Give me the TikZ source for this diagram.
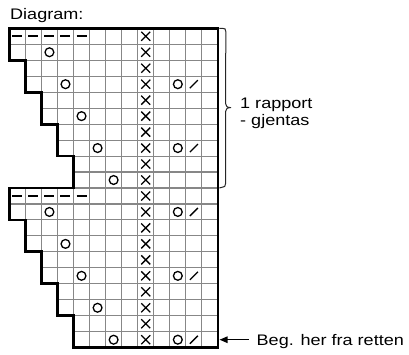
\documentclass[tikz,border=0pt]{standalone}
\usepackage{fontspec}
\setmainfont[FakeStretch=1.18]{Liberation Sans}
\usetikzlibrary{arrows.meta}
\definecolor{gridgray}{RGB}{135,135,135}
\begin{document}
\begin{tikzpicture}[x=1pt,y=-1pt,
  gridline/.style={draw=gridgray,line width=1.1pt},
  outline/.style={line width=2.8pt,line join=miter},
  sym/.style={line width=1.3pt,black},
  dashsym/.style={line width=1.6pt,black},
  lbl/.style={inner sep=0pt,font=\fontsize{15.3}{17.4}\selectfont,anchor=base west},
  bracestyle/.style={line width=1pt,black!85},
  arr/.style={-{Triangle[length=8pt,width=6.5pt]},line width=1.2pt}
]
\useasboundingbox (0,0) rectangle (409,355);
\node[lbl] (title) at (10,19.3) {Diagram:};
\begin{scope}[xshift=9.3pt,yshift=-28.3pt,x=16.05pt,y=-15.97pt]
  % grid cells
  \foreach \r in {1,...,20}{
    \pgfmathtruncatemacro\s{mod(int((\r-1)/2),5)}
    \foreach \c in {\s,...,12}{\draw[gridline] (\c,\r-1) rectangle (\c+1,\r);}
  }
  % column of crosses
  \foreach \r in {1,...,20}{
    \draw[sym] (8.5,\r-0.5) ++(-4.5pt,-4.5pt) -- ++(9pt,9pt) ++(-9pt,0pt) -- ++(9pt,-9pt);
  }
  % circles on the staircase
  \foreach \c/\r in {3/2,4/4,5/6,6/8,7/10,3/12,4/14,5/16,6/18,7/20}{
    \draw[sym] (\c-0.5,\r-0.5) circle[radius=4.4pt];
  }
  % circle + slash pairs
  \foreach \r in {4,8,12,16,20}{
    \draw[sym] (10.5,\r-0.5) circle[radius=4.4pt];
    \draw[sym] (11.5,\r-0.5) ++(-4pt,-4pt) -- ++(8pt,8pt);
  }
  % dashes
  \foreach \r in {1,11}{
    \foreach \c in {1,...,5}{
      \draw[dashsym] (\c-0.5,\r-0.5) ++(-5pt,0pt) -- ++(10pt,0pt);
    }
  }
  % outline
  \draw[outline] (0,0) -- (13,0) -- (13,20) -- (4,20) -- (4,18) -- (3,18) -- (3,16)
    -- (2,16) -- (2,14) -- (1,14) -- (1,12) -- (0,12) -- (0,10) -- (4,10) -- (4,8)
    -- (3,8) -- (3,6) -- (2,6) -- (2,4) -- (1,4) -- (1,2) -- (0,2) -- cycle;
  \coordinate (tip) at ([xshift=1.6pt]13,19.5);
  \coordinate (btop) at ([xshift=1.4pt]13,0);
  \coordinate (bbot) at ([xshift=1.4pt]13,10);
\end{scope}
% brace
\draw[bracestyle] (btop) -- ++(3pt,0pt) .. controls ++(2.5pt,0pt) and ++(0pt,3pt) .. ++(3.5pt,-3.5pt)
  -- (225.5,103.5) .. controls (225.5,106.5) and (227.5,107.6) .. (231,107.6)
  .. controls (227.5,107.6) and (225.5,108.7) .. (225.5,111.7)
  -- (225.5,183.8) .. controls (225.5,186.3) and (224.5,187.3) .. (222,187.3) -- (bbot);
\node[lbl] (rap1) at (240,108.3) {1 rapport};
\node[lbl] (rap2) at (240,125.7) {- gjentas};
\node[lbl] (beg) at (256.5,345.6) {Beg. her fra retten};
\draw[arr] ([xshift=-8pt]beg.west |- tip) -- (tip);
\end{tikzpicture}
\end{document}
